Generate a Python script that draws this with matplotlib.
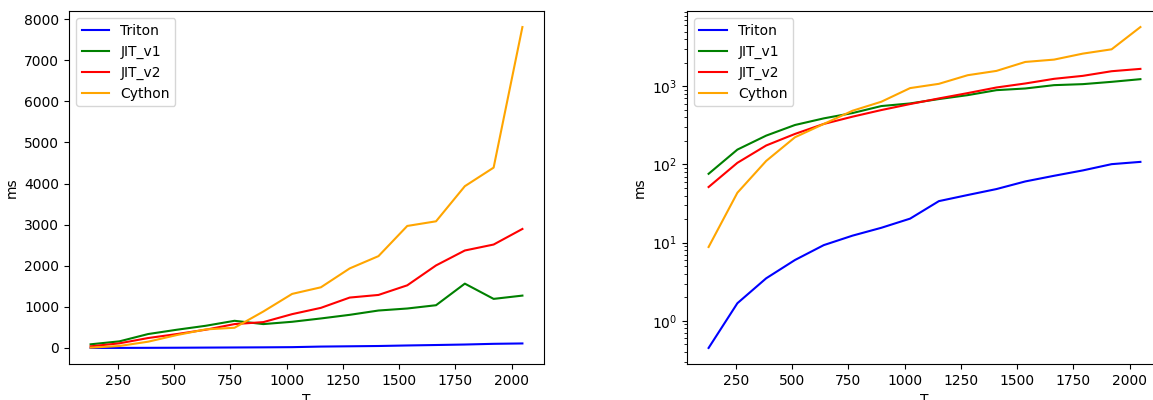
import numpy as np
import matplotlib
matplotlib.use('Agg')
import matplotlib.pyplot as plt

T = [128, 256, 384, 512, 640, 768, 896, 1024, 1152, 1280, 1408, 1536, 1664, 1792, 1920, 2048]

# left plot (linear run)
triton_a = [0.5, 1.7, 3.5, 6, 9.3, 12.3, 15.5, 20, 34, 41, 48, 61, 72, 84, 101, 110]
jit_v1_a = [89, 161, 339, 444, 540, 661, 581, 637, 718, 806, 911, 960, 1040, 1565, 1194, 1274]
jit_v2_a = [40, 113, 242, 339, 444, 581, 629, 823, 976, 1226, 1290, 1524, 2008, 2371, 2516, 2895]
cython_a = [8, 48, 153, 315, 452, 492, 887, 1315, 1476, 1935, 2234, 2968, 3081, 3935, 4387, 7806]

# right plot (log run)
triton_b = [0.45, 1.68, 3.5, 6.0, 9.3, 12.3, 15.5, 20.3, 34, 40.7, 48.5, 60.7, 71.7, 84, 101, 108]
jit_v1_b = [76, 155, 234, 320, 389, 455, 559, 604, 687, 771, 893, 938, 1035, 1066, 1141, 1234]
jit_v2_b = [51.5, 105, 175, 246, 330, 409, 497, 593, 700, 819, 966, 1087, 1247, 1361, 1560, 1671]
cython_b = [8.8, 43.5, 111, 223, 330, 487, 635, 949, 1076, 1387, 1575, 2050, 2196, 2620, 2974, 5730]

names = ['Triton', 'JIT_v1', 'JIT_v2', 'Cython']
colors = ['blue', 'green', 'red', 'orange']

W, H = 1153, 400
fig = plt.figure(figsize=(W / 100, H / 100), dpi=100)
ax1 = fig.add_axes([69 / W, 36 / H, 475 / W, 353 / H])
ax2 = fig.add_axes([687 / W, 36 / H, 475 / W, 353 / H])

for ys, name, c in zip([triton_a, jit_v1_a, jit_v2_a, cython_a], names, colors):
    ax1.plot(T, ys, color=c, label=name)
for ys, name, c in zip([triton_b, jit_v1_b, jit_v2_b, cython_b], names, colors):
    ax2.plot(T, ys, color=c, label=name)
ax2.set_yscale('log')

for ax in (ax1, ax2):
    ax.set_xlabel('T')
    ax.set_ylabel('ms')
    ax.legend(loc='upper left')
    ax.set_xticks([250, 500, 750, 1000, 1250, 1500, 1750, 2000])

fig.savefig('out.png', dpi=100)
